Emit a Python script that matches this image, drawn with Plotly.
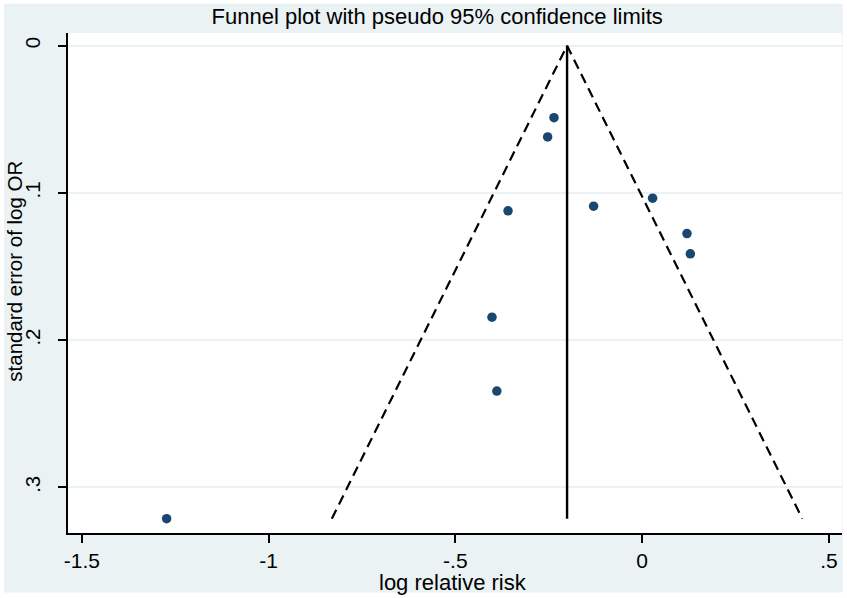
import plotly.graph_objects as go

# study estimates
log_rr = [-0.236, -0.253, -0.359, -0.130, 0.028, 0.120, 0.129, -0.402, -0.389, -1.273]
se_log_or = [0.0489, 0.0620, 0.1122, 0.1090, 0.1036, 0.1276, 0.1414, 0.1844, 0.2346, 0.3213]

pooled = -0.201
se_max = max(se_log_or)
z95 = 1.96

x_ticks = [-1.5, -1, -0.5, 0, 0.5]
x_ticklabels = ["-1.5", "-1", "-.5", "0", ".5"]
y_ticks = [0, 0.1, 0.2, 0.3]
y_ticklabels = ["0", ".1", ".2", ".3"]

font = "Liberation Sans, Arial, sans-serif"
bg = "#eaf2f3"

fig = go.Figure()

# pseudo 95% limits
fig.add_trace(go.Scatter(
    x=[pooled - z95 * se_max, pooled, pooled + z95 * se_max],
    y=[se_max, 0, se_max],
    mode="lines", line=dict(color="black", width=2.2, dash="10px,6px"),
    showlegend=False, hoverinfo="skip"))

# pooled estimate
fig.add_trace(go.Scatter(
    x=[pooled, pooled], y=[0, se_max],
    mode="lines", line=dict(color="black", width=2.4),
    showlegend=False, hoverinfo="skip"))

fig.add_trace(go.Scatter(
    x=log_rr, y=se_log_or, mode="markers",
    marker=dict(color="#1a476f", size=9.5),
    showlegend=False))

# outer stata-like background, then white plot region on top of it
fig.add_shape(type="rect", xref="paper", yref="paper",
              x0=-0.0827, x1=1.0009, y0=-0.119, y1=1.0586,
              fillcolor=bg, line_width=0, layer="below")
fig.add_shape(type="rect", xref="paper", yref="paper",
              x0=0, x1=1, y0=0, y1=1,
              fillcolor="white", line_width=0, layer="below")

# axis titles as annotations so they can sit where stata put them
fig.add_annotation(text="log relative risk", xref="paper", yref="paper",
                   x=0.497, y=-0.0994, xanchor="center", yanchor="middle",
                   showarrow=False, font=dict(size=22))
fig.add_annotation(text="standard error of log OR", xref="paper", yref="paper",
                   x=-0.0685, y=0.5246, xanchor="center", yanchor="middle",
                   textangle=-90, showarrow=False, font=dict(size=20.5))

fig.update_layout(
    width=847, height=598,
    margin=dict(l=68, r=5, t=33, b=65, autoexpand=False),
    paper_bgcolor="white", plot_bgcolor="white",
    font=dict(family=font, size=22, color="black"),
    title=dict(text="Funnel plot with pseudo 95% confidence limits",
               x=0.477, xref="paper", xanchor="center",
               y=0.973, yref="container", yanchor="middle",
               font=dict(family=font, size=22, color="black")),
)

fig.update_xaxes(
    range=[-1.537, 0.535], tickvals=x_ticks, ticktext=x_ticklabels,
    showgrid=False, zeroline=False, automargin=False,
    showline=True, linecolor="black", linewidth=1.5,
    ticks="outside", ticklen=8, tickcolor="black", tickwidth=1.5,
    tickfont=dict(size=21))

fig.update_yaxes(
    range=[0.331, -0.0086], tickvals=y_ticks, ticktext=y_ticklabels,
    tickangle=-90, automargin=False, ticklabelstandoff=10,
    showgrid=True, gridcolor=bg, gridwidth=1.5, zeroline=False,
    showline=True, linecolor="black", linewidth=1.5,
    ticks="outside", ticklen=8, tickcolor="black", tickwidth=1.5,
    tickfont=dict(size=20.5))

# drop the default body margin so the figure sits at the window corner
fig.write_html("out.html", config={"displayModeBar": False},
               post_script="document.body.style.margin='0';")
